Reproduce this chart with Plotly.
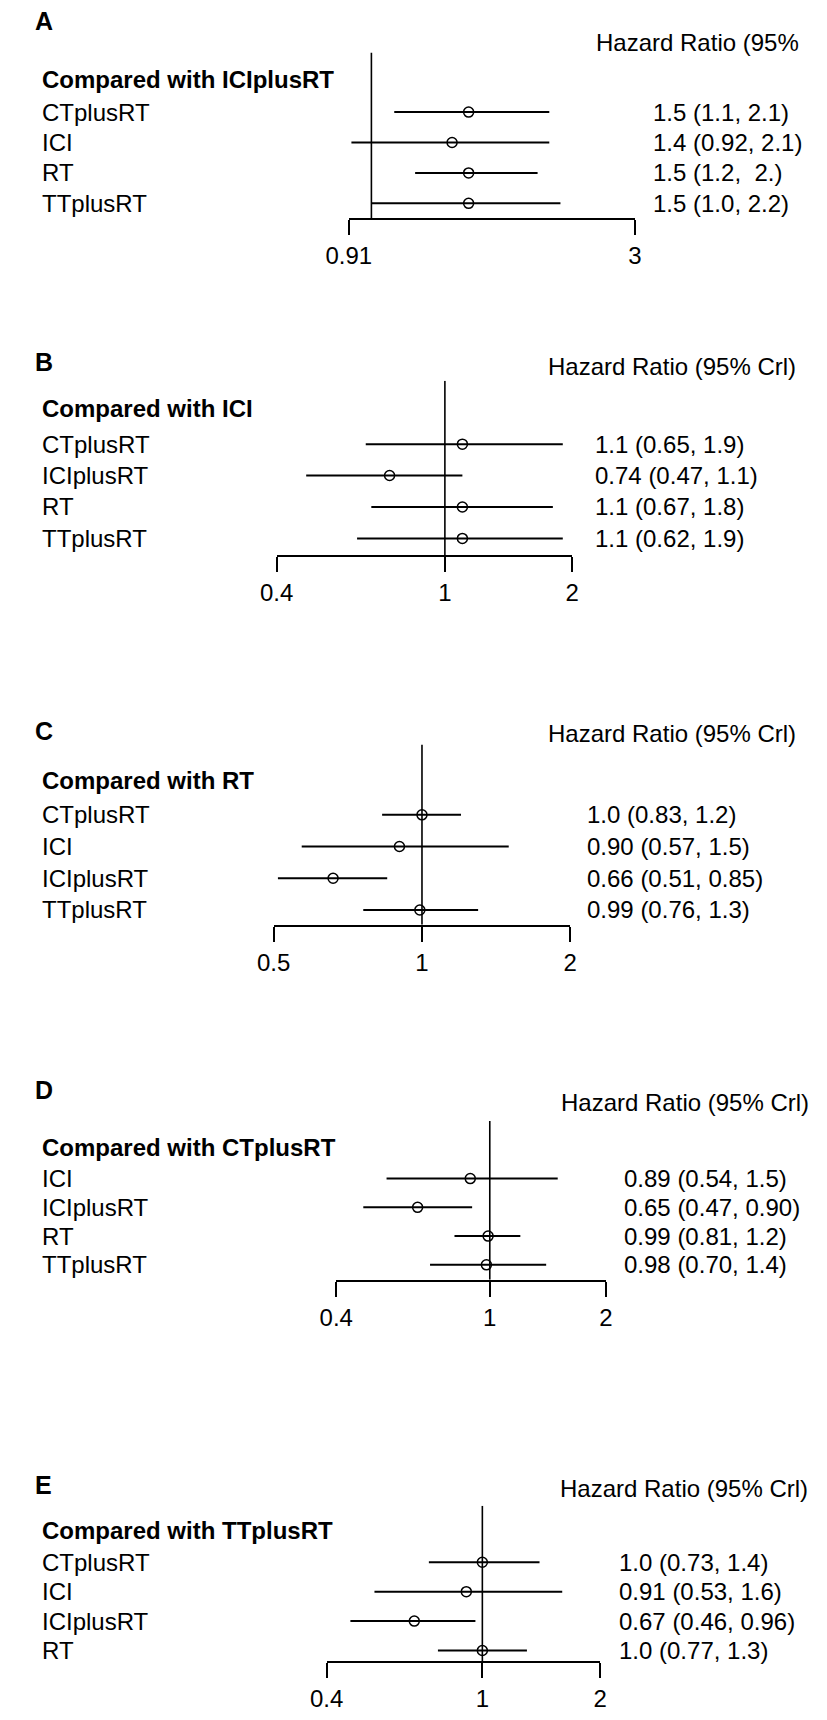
import math
import plotly.graph_objects as go

# the page body keeps its default 8px margin, so the figure is drawn
# 8px in from the top-left corner; size it to fit the 827x1720 window
MARGIN = 8
W, H = 827 - 2 * MARGIN, 1720 - 2 * MARGIN
FONT = "Liberation Sans, Arial, sans-serif"
FS = 24

# A: compared with ICIplusRT
a_names = ["CTplusRT", "ICI", "RT", "TTplusRT"]
a_hr = [1.5, 1.4, 1.5, 1.5]
a_lo = [1.1, 0.92, 1.2, 1.0]
a_hi = [2.1, 2.1, 2.0, 2.2]
a_text = ["1.5 (1.1, 2.1)", "1.4 (0.92, 2.1)", "1.5 (1.2,\u00a0 2.)", "1.5 (1.0, 2.2)"]
a_ticks = [0.91, 3]
a_ticktext = ["0.91", "3"]

# B: compared with ICI
b_names = ["CTplusRT", "ICIplusRT", "RT", "TTplusRT"]
b_hr = [1.1, 0.74, 1.1, 1.1]
b_lo = [0.65, 0.47, 0.67, 0.62]
b_hi = [1.9, 1.1, 1.8, 1.9]
b_text = ["1.1 (0.65, 1.9)", "0.74 (0.47, 1.1)", "1.1 (0.67, 1.8)", "1.1 (0.62, 1.9)"]
b_ticks = [0.4, 1, 2]
b_ticktext = ["0.4", "1", "2"]

# C: compared with RT
c_names = ["CTplusRT", "ICI", "ICIplusRT", "TTplusRT"]
c_hr = [1.0, 0.90, 0.66, 0.99]
c_lo = [0.83, 0.57, 0.51, 0.76]
c_hi = [1.2, 1.5, 0.85, 1.3]
c_text = ["1.0 (0.83, 1.2)", "0.90 (0.57, 1.5)", "0.66 (0.51, 0.85)", "0.99 (0.76, 1.3)"]
c_ticks = [0.5, 1, 2]
c_ticktext = ["0.5", "1", "2"]

# D: compared with CTplusRT
d_names = ["ICI", "ICIplusRT", "RT", "TTplusRT"]
d_hr = [0.89, 0.65, 0.99, 0.98]
d_lo = [0.54, 0.47, 0.81, 0.70]
d_hi = [1.5, 0.90, 1.2, 1.4]
d_text = ["0.89 (0.54, 1.5)", "0.65 (0.47, 0.90)", "0.99 (0.81, 1.2)", "0.98 (0.70, 1.4)"]
d_ticks = [0.4, 1, 2]
d_ticktext = ["0.4", "1", "2"]

# E: compared with TTplusRT
e_names = ["CTplusRT", "ICI", "ICIplusRT", "RT"]
e_hr = [1.0, 0.91, 0.67, 1.0]
e_lo = [0.73, 0.53, 0.46, 0.77]
e_hi = [1.4, 1.6, 0.96, 1.3]
e_text = ["1.0 (0.73, 1.4)", "0.91 (0.53, 1.6)", "0.67 (0.46, 0.96)", "1.0 (0.77, 1.3)"]
e_ticks = [0.4, 1, 2]
e_ticktext = ["0.4", "1", "2"]

header_full = "Hazard Ratio (95% Crl)"

# pixel layout of each panel, in window pixels from the top-left corner
panels = [
    dict(letter="A", title="Compared with ICIplusRT", header="Hazard Ratio (95%",
         names=a_names, hr=a_hr, lo=a_lo, hi=a_hi, text=a_text,
         ticks=a_ticks, ticktext=a_ticktext,
         letter_y=21, head_y=43, head_x=808, vtop=53, title_y=80,
         row0=113, row_h=30.7, axis_y=220, x0=338, x1=635, hr_x=652),
    dict(letter="B", title="Compared with ICI", header=header_full,
         names=b_names, hr=b_hr, lo=b_lo, hi=b_hi, text=b_text,
         ticks=b_ticks, ticktext=b_ticktext,
         letter_y=365, head_y=370, head_x=804, vtop=384, title_y=412,
         row0=448, row_h=31.7, axis_y=560, x0=263, x1=570, hr_x=592),
    dict(letter="C", title="Compared with RT", header=header_full,
         names=c_names, hr=c_hr, lo=c_lo, hi=c_hi, text=c_text,
         ticks=c_ticks, ticktext=c_ticktext,
         letter_y=737, head_y=740, head_x=804, vtop=751, title_y=787,
         row0=822, row_h=32.0, axis_y=933, x0=260, x1=568, hr_x=583),
    dict(letter="D", title="Compared with CTplusRT", header=header_full,
         names=d_names, hr=d_hr, lo=d_lo, hi=d_hi, text=d_text,
         ticks=d_ticks, ticktext=d_ticktext,
         letter_y=1100, head_y=1112, head_x=818, vtop=1131, title_y=1158,
         row0=1189, row_h=29.0, axis_y=1291, x0=325, x1=605, hr_x=622),
    dict(letter="E", title="Compared with TTplusRT", header=header_full,
         names=e_names, hr=e_hr, lo=e_lo, hi=e_hi, text=e_text,
         ticks=e_ticks, ticktext=e_ticktext,
         letter_y=1498, head_y=1502, head_x=817, vtop=1519, title_y=1544,
         row0=1576, row_h=29.7, axis_y=1676, x0=315, x1=599, hr_x=617),
]

fig = go.Figure()
layout = {}
annotations = []


def paper_x(px):
    return (px - MARGIN) / W


def paper_y(py):
    return 1 - (py - MARGIN) / H


for i, p in enumerate(panels, start=1):
    xa = "x" if i == 1 else f"x{i}"
    ya = "y" if i == 1 else f"y{i}"

    def row(py):
        return (py - p["row0"]) / p["row_h"]

    r_b, r_t = row(p["axis_y"]), row(p["vtop"])
    rows = list(range(len(p["names"])))

    # reference line at HR = 1
    fig.add_trace(go.Scatter(
        x=[1, 1], y=[r_t, r_b], mode="lines",
        line=dict(color="black", width=1.6),
        xaxis=xa, yaxis=ya, hoverinfo="skip", showlegend=False))

    # point estimates with credible intervals
    fig.add_trace(go.Scatter(
        x=p["hr"], y=rows, mode="markers",
        marker=dict(symbol="circle-open", size=10, color="black",
                    line=dict(width=1.5, color="black")),
        error_x=dict(type="data", symmetric=False,
                     array=[h - m for h, m in zip(p["hi"], p["hr"])],
                     arrayminus=[m - l for m, l in zip(p["hr"], p["lo"])],
                     width=0, thickness=2, color="black"),
        xaxis=xa, yaxis=ya, showlegend=False))

    t0, t1 = p["ticks"][0], p["ticks"][-1]
    layout["xaxis" if i == 1 else f"xaxis{i}"] = dict(
        type="log", anchor=ya,
        range=[math.log10(t0) - 1e-6, math.log10(t1) + 1e-6],
        domain=[paper_x(p["x0"]), paper_x(p["x1"])],
        showline=True, linecolor="black", linewidth=2,
        ticks="outside", ticklen=15, tickwidth=2, tickcolor="black",
        tickvals=p["ticks"], ticktext=p["ticktext"],
        tickfont=dict(size=FS, color="black", family=FONT),
        ticklabelstandoff=0,
        showgrid=False, zeroline=False, fixedrange=True)
    layout["yaxis" if i == 1 else f"yaxis{i}"] = dict(
        anchor=xa, range=[r_b, r_t],
        domain=[paper_y(p["axis_y"]), paper_y(p["vtop"])],
        visible=False, fixedrange=True)

    annotations.append(dict(
        text=f"<b>{p['letter']}</b>", x=paper_x(10), xref="paper",
        y=paper_y(p["letter_y"]), yref="paper", xanchor="left", yanchor="middle",
        showarrow=False, font=dict(size=25, color="black", family=FONT)))
    annotations.append(dict(
        text=p["header"], x=paper_x(p["head_x"]), xref="paper",
        y=paper_y(p["head_y"]), yref="paper", xanchor="right", yanchor="middle",
        showarrow=False, font=dict(size=FS, color="black", family=FONT)))
    annotations.append(dict(
        text=f"<b>{p['title']}</b>", x=paper_x(17), xref="paper",
        y=paper_y(p["title_y"]), yref="paper", xanchor="left", yanchor="middle",
        showarrow=False, font=dict(size=FS, color="black", family=FONT)))
    for r, name, txt in zip(rows, p["names"], p["text"]):
        annotations.append(dict(
            text=name, x=paper_x(17), xref="paper", y=r, yref=ya,
            xanchor="left", yanchor="middle", showarrow=False,
            font=dict(size=FS, color="black", family=FONT)))
        annotations.append(dict(
            text=txt, x=paper_x(p["hr_x"]), xref="paper", y=r, yref=ya,
            xanchor="left", yanchor="middle", showarrow=False,
            font=dict(size=FS, color="black", family=FONT)))

fig.update_layout(
    width=W, height=H,
    margin=dict(l=0, r=0, t=0, b=0),
    paper_bgcolor="white", plot_bgcolor="white",
    font=dict(family=FONT, color="black"),
    annotations=annotations,
    showlegend=False,
    **layout)

fig.write_html("out.html")
